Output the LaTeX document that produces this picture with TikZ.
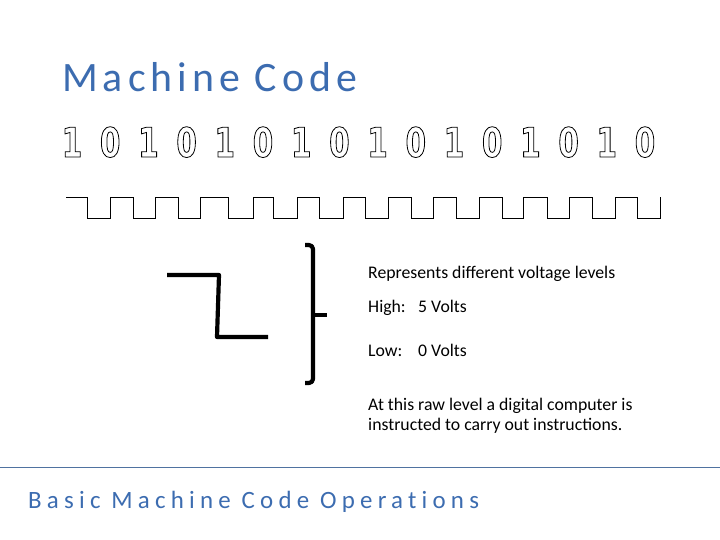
\documentclass[tikz,border=0pt]{standalone}
\usepackage{fontspec}
\setmainfont{Carlito}
\newfontfamily\titlefont[LetterSpace=12,Ligatures=NoCommon]{Carlito}
\newfontfamily\subfont[LetterSpace=21,Ligatures=NoCommon]{Carlito}
\newfontfamily\digitfont[FakeStretch=0.72]{DejaVu Sans Bold}
\definecolor{titleblue}{RGB}{60,108,176}
\definecolor{rulecol}{RGB}{79,114,160}
\tikzset{
  digit/.style={inner sep=0pt, font=\digitfont\fontsize{41}{41}\selectfont},
  wave/.style={line width=1pt, line join=miter},
  thick step/.style={line width=4.2pt, line cap=butt, line join=round},
  body/.style={anchor=base west, inner sep=0pt, font=\fontsize{17.8}{21}\selectfont}
}
\newcommand{\outl}[1]{\special{pdf:literal direct 1 Tr 0.8 w}#1\special{pdf:literal direct 0 Tr}}
\begin{document}
\begin{tikzpicture}[x=1bp,y=-1bp]
\useasboundingbox (0,0) rectangle (720,540);
% title
\node[anchor=base west, inner sep=0pt, text=titleblue, font=\titlefont\fontsize{42}{42}\selectfont] (title) at (62,92) {Machine Code};
% digits
\foreach \i in {0,...,15}{
  \pgfmathtruncatemacro{\b}{mod(\i+1,2)}
  \node[digit, anchor=base] (d\i) at ({72+38.2*\i},157) {\outl{\b}};
}
% square wave
\draw[wave] (66,197) -- (87,197) -- (87,218) -- (110,218) -- (110,197) -- (133,197) -- (133,218) -- (155,218) -- (155,197) -- (178,197) -- (178,218) -- (200,218) -- (200,197) -- (228,197) -- (228,218) -- (253,218) -- (253,197) -- (273,197) -- (273,218) -- (297,218) -- (297,197) -- (319,197) -- (319,218) -- (343,218) -- (343,197) -- (365,197) -- (365,218) -- (388,218) -- (388,197) -- (411,197) -- (411,218) -- (433,218) -- (433,197) -- (456,197) -- (456,218) -- (479,218) -- (479,197) -- (502,197) -- (502,218) -- (523,218) -- (523,197) -- (547,197) -- (547,218) -- (569,218) -- (569,197) -- (592,197) -- (592,218) -- (615,218) -- (615,197) -- (637,197) -- (637,218) -- (660,218) -- (660,197);
% step symbol
\draw[thick step] (167,275) -- (219,275) -- (217,337) -- (268,337);
% bracket
\draw[thick step] (305,245) -- (309,245) to[out=0,in=90] (313,249) -- (313,379) to[out=-90,in=0] (309,383) -- (305,383);
\draw[thick step] (313,315) -- (327,315);
% text
\node[body] (t1) at (368,279) {Represents different voltage levels};
\node[body] (t2) at (368,312) {High:};
\node[body] (t2b) at (418,312) {5 Volts};
\node[body] (t3) at (368,356) {Low:};
\node[body] (t3b) at (418,356) {0 Volts};
\node[body] (t4) at (368,410) {At this raw level a digital computer is};
\node[body] (t5) at (368,430) {instructed to carry out instructions.};
% rule
\draw[rulecol, line width=1pt] (0,467) -- (720,467);
% footer
\node[anchor=base west, inner sep=0pt, text=titleblue, font=\subfont\fontsize{25}{25}\selectfont] (foot) at (28,508) {Basic Machine Code Operations};
\end{tikzpicture}
\end{document}
